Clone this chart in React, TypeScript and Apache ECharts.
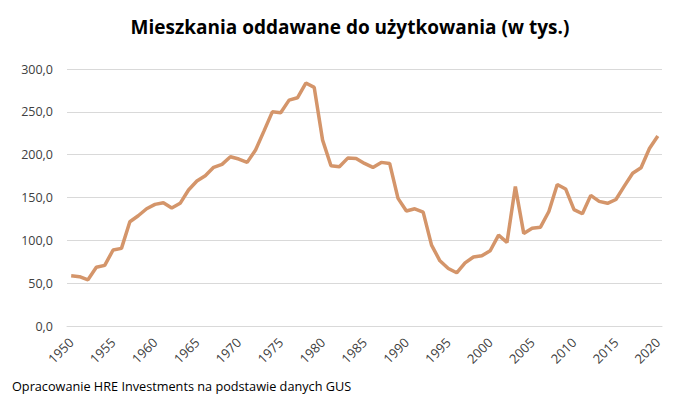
import React, { useEffect, useRef } from "react";
import * as echarts from "echarts";

const years: string[] = [];
for (let y = 1950; y <= 2020; y++) years.push(String(y));

const values: number[] = [
  58.7, 57.6, 53.9, 68.5, 70.8, 88.7, 90.6, 121.7, 128.7, 136.9,
  142.0, 143.9, 137.7, 143.2, 158.7, 169.2, 175.4, 185.2, 188.7, 197.6,
  194.9, 191.0, 205.4, 227.5, 250.0, 248.9, 263.7, 266.4, 283.6, 278.5,
  217.0, 187.0, 185.9, 196.0, 195.6, 189.8, 185.1, 191.0, 189.8, 149.0,
  134.2, 136.8, 133.0, 94.4, 76.1, 67.1, 62.1, 73.7, 80.6, 82.0,
  87.8, 106.0, 97.6, 162.7, 108.1, 114.1, 115.4, 133.7, 165.2, 160.0,
  135.8, 131.0, 152.5, 145.5, 143.2, 147.7, 163.3, 178.3, 184.8, 207.2,
  221.9,
];

const titleText = "Mieszkania oddawane do użytkowania (w tys.)";
const sourceText = "Opracowanie HRE Investments na podstawie danych GUS";

export default function App() {
  const ref = useRef<HTMLDivElement>(null);
  useEffect(() => {
    document.body.style.margin = "0";
    if (!ref.current) return;
    const chart = echarts.init(ref.current, null, { renderer: "svg" });
    chart.setOption({
      animation: false,
      backgroundColor: "#ffffff",
      title: {
        text: titleText,
        left: "center",
        top: 12,
        textStyle: {
          fontFamily: "Open Sans",
          fontSize: 19,
          fontWeight: "bold",
          color: "#000000",
        },
      },
      graphic: [
        {
          type: "text",
          left: 12,
          top: 379,
          style: {
            text: sourceText,
            fontFamily: "Open Sans",
            fontSize: 12.7,
            fill: "#000000",
          },
        },
      ],
      grid: { left: 67, right: 38, top: 69, bottom: 76, containLabel: false },
      xAxis: {
        type: "category",
        data: years,
        boundaryGap: true,
        axisLine: { show: true, lineStyle: { color: "#D9D9D9" } },
        axisTick: { show: false },
        axisLabel: {
          interval: 4,
          rotate: 45,
          margin: 14,
          fontFamily: "Open Sans",
          fontSize: 13,
          color: "#404040",
        },
      },
      yAxis: {
        type: "value",
        min: 0,
        max: 300,
        interval: 50,
        axisLine: { show: false },
        axisTick: { show: false },
        splitLine: { lineStyle: { color: "#D9D9D9", width: 1 } },
        axisLabel: {
          margin: 14,
          fontFamily: "Open Sans",
          fontSize: 12.5,
          color: "#404040",
          formatter: (v: number) => v.toFixed(1).replace(".", ","),
        },
      },
      series: [
        {
          type: "line",
          data: values,
          symbol: "none",
          lineStyle: { color: "#D4956A", width: 3.5 },
        },
      ],
    });
    return () => chart.dispose();
  }, []);
  return <div ref={ref} style={{ width: 700, height: 402 }} />;
}
